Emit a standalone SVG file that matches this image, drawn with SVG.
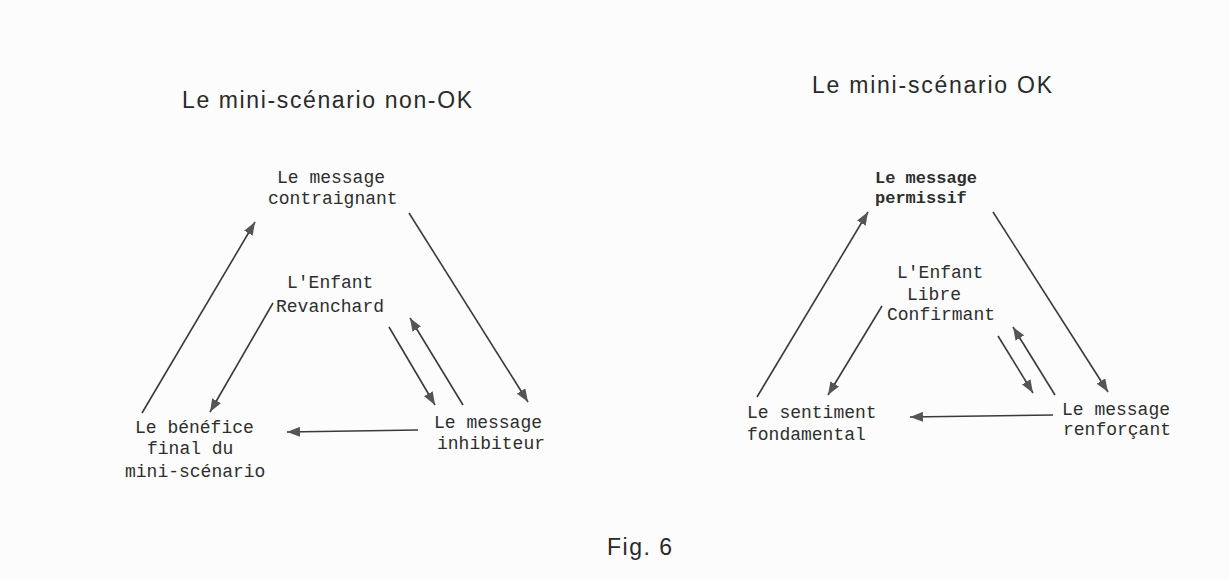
<svg xmlns="http://www.w3.org/2000/svg" width="1229" height="580" viewBox="0 0 1229 580">
<style>
.title{font-family:"Liberation Sans",Arial,sans-serif;font-size:23px;fill:#2a2a2a}
.tw{font-family:"Liberation Mono","Courier New",monospace;font-size:18px;fill:#2e2e2e}
.tw2{font-family:"Liberation Mono","Courier New",monospace;font-size:17px;fill:#2e2e2e;font-weight:bold}
.cn{stroke:#3a3a3a;stroke-width:1.6;fill:none;marker-end:url(#ah)}
</style>
<defs>
<marker id="ah" markerUnits="userSpaceOnUse" markerWidth="13" markerHeight="10" refX="13" refY="5" orient="auto">
<path d="M0,0 L13,5 L0,10 z" fill="#555"/>
</marker>
</defs>
<rect width="1229" height="580" fill="#fcfcfc"/>
<text class="title" x="182" y="108" textLength="290" lengthAdjust="spacing">Le mini-scénario non-OK</text>
<text class="title" x="812" y="93" textLength="240" lengthAdjust="spacing">Le mini-scénario OK</text>
<text class="title" x="607" y="555" font-size="22" textLength="65" lengthAdjust="spacing">Fig. 6</text>

<g id="connectors">
<line class="cn" x1="142" y1="413" x2="255" y2="222"/>
<line class="cn" x1="409" y1="213" x2="528" y2="402"/>
<line class="cn" x1="273" y1="303" x2="210" y2="412"/>
<line class="cn" x1="389" y1="327" x2="435" y2="405"/>
<line class="cn" x1="463" y1="405" x2="410" y2="318"/>
<line class="cn" x1="418" y1="430" x2="287" y2="432"/>

<line class="cn" x1="757" y1="397" x2="868" y2="212"/>
<line class="cn" x1="993" y1="212" x2="1108" y2="392"/>
<line class="cn" x1="882" y1="306" x2="828" y2="395"/>
<line class="cn" x1="998" y1="336" x2="1033" y2="393"/>
<line class="cn" x1="1055" y1="395" x2="1013" y2="327"/>
<line class="cn" x1="1053" y1="415" x2="910" y2="417"/>
</g>

<g id="n-contraignant"><text class="tw" x="277" y="183">Le message</text><text class="tw" x="268" y="204">contraignant</text></g>
<g id="n-revanchard"><text class="tw" x="287" y="288">L'Enfant</text><text class="tw" x="276" y="312">Revanchard</text></g>
<g id="n-inhibiteur"><text class="tw" x="434" y="428">Le message</text><text class="tw" x="437" y="449">inhibiteur</text></g>
<g id="n-benefice"><text class="tw" x="135" y="433">Le bénéfice</text><text class="tw" x="147" y="454">final du</text><text class="tw" x="125" y="477">mini-scénario</text></g>

<g id="n-permissif"><text class="tw2" x="875" y="183">Le message</text><text class="tw2" x="875" y="203">permissif</text></g>
<g id="n-libre"><text class="tw" font-size="17" x="897" y="278">L'Enfant</text><text class="tw" font-size="17" x="907" y="300">Libre</text><text class="tw" font-size="17" x="887" y="320">Confirmant</text></g>
<g id="n-renforcant"><text class="tw" font-size="17" x="1062" y="415">Le message</text><text class="tw" font-size="17" x="1063" y="435">renforçant</text></g>
<g id="n-sentiment"><text class="tw" font-size="17" x="747" y="418">Le sentiment</text><text class="tw" font-size="17" x="747" y="440">fondamental</text></g>
</svg>
